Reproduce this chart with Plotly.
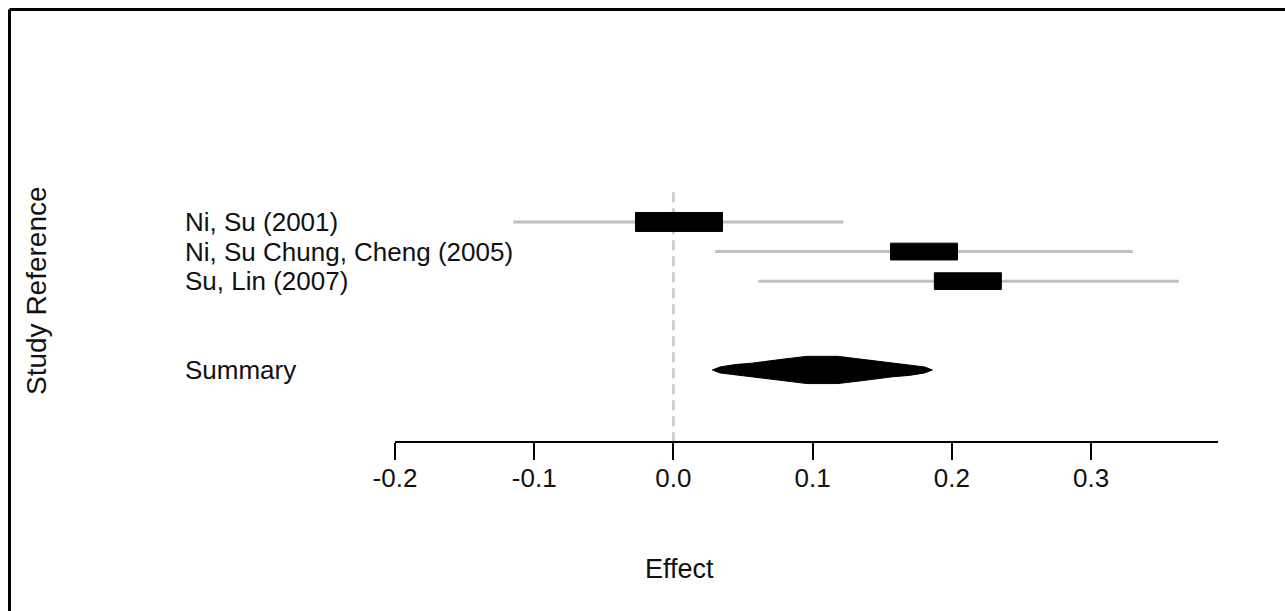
import plotly.graph_objects as go

# ---- data ----
studies = ["Ni, Su (2001)", "Ni, Su Chung, Cheng (2005)", "Su, Lin (2007)"]
effects = [0.004, 0.180, 0.2115]
lower = [-0.115, 0.030, 0.061]
upper = [0.122, 0.330, 0.363]
weights = [1.0, 0.77, 0.77]
summary_label = "Summary"
summary_effect = 0.107
summary_lower = 0.030
summary_upper = 0.188
tick_vals = [-0.2, -0.1, 0.0, 0.1, 0.2, 0.3]
tick_text = ["-0.2", "-0.1", "0.0", "0.1", "0.2", "0.3"]
x_title = "Effect"
y_title = "Study Reference"

# ---- layout constants ----
W, H = 1285, 611
ML, MR, MT, MB = 395, 67, 100, 170
XR = [-0.2, 0.3912]
YR = [7.4, -4.12]
FONT = "Liberation Sans, Arial, sans-serif"
FS = 26
TXT = "#111111"
BOX_W = 0.0625
BOX_H = 0.32
SUMMARY_ROW = 5

rows = list(range(len(studies)))

fig = go.Figure()

# zero reference line
fig.add_trace(go.Scatter(x=[0, 0], y=[-1, YR[0]], mode="lines",
                         line=dict(color="#d0d0d0", width=3, dash="10px,6px"),
                         hoverinfo="skip", showlegend=False))

# CI lines
for r, lo, hi in zip(rows, lower, upper):
    fig.add_trace(go.Scatter(x=[lo, hi], y=[r, r], mode="lines",
                             line=dict(color="#c0c0c0", width=3),
                             hoverinfo="skip", showlegend=False))

# boxes
for r, e, w in zip(rows, effects, weights):
    hw = BOX_W * w / 2
    hh = BOX_H * (0.5 + 0.5 * w)
    fig.add_trace(go.Scatter(x=[e - hw, e + hw, e + hw, e - hw, e - hw],
                             y=[r - hh, r - hh, r + hh, r + hh, r - hh],
                             mode="lines", fill="toself", fillcolor="black",
                             line=dict(color="black", width=1),
                             hoverinfo="skip", showlegend=False))

# summary diamond (slightly convex, as in the original raster)
dh = 0.46
half = (summary_upper - summary_lower) / 2
prof = [(0.0, 1.0), (0.22, 0.93), (0.4, 0.79), (0.5, 0.64), (0.8, 0.35), (1.0, 0.14)]
dx = []
dy = []
for fy, fx in prof:
    dx.append(summary_effect - half * fx)
    dy.append(SUMMARY_ROW - dh * fy)
for fy, fx in reversed(prof):
    dx.append(summary_effect + half * fx)
    dy.append(SUMMARY_ROW - dh * fy)
for fy, fx in prof[1:]:
    dx.append(summary_effect + half * fx)
    dy.append(SUMMARY_ROW + dh * fy)
for fy, fx in reversed(prof):
    dx.append(summary_effect - half * fx)
    dy.append(SUMMARY_ROW + dh * fy)
fig.add_trace(go.Scatter(x=dx, y=dy, mode="lines", fill="toself", fillcolor="black",
                         line=dict(color="black", width=1),
                         hoverinfo="skip", showlegend=False))

pw = W - ML - MR
ph = H - MT - MB

def px_x(px):
    return (px - ML) / pw

def py_y(py):
    return (H - MB - py) / ph

annotations = []
label_x = px_x(183)
for r, s in zip(rows, studies):
    annotations.append(dict(x=label_x, xref="paper", y=r, yref="y", text=s,
                            showarrow=False, xanchor="left", yanchor="middle",
                            font=dict(family=FONT, size=FS, color=TXT)))
annotations.append(dict(x=label_x, xref="paper", y=SUMMARY_ROW, yref="y", text=summary_label,
                        showarrow=False, xanchor="left", yanchor="middle",
                        font=dict(family=FONT, size=FS, color=TXT)))
annotations.append(dict(x=px_x(679), xref="paper", y=py_y(569), yref="paper", text=x_title,
                        showarrow=False, xanchor="center", yanchor="middle",
                        font=dict(family=FONT, size=FS + 1, color=TXT)))
annotations.append(dict(x=px_x(36), xref="paper", y=py_y(291), yref="paper", text=y_title,
                        showarrow=False, xanchor="center", yanchor="middle", textangle=-90,
                        font=dict(family=FONT, size=FS + 2, color=TXT)))

shapes = [
    dict(type="line", xref="paper", yref="paper", x0=px_x(9.5), x1=px_x(1300),
         y0=py_y(9.5), y1=py_y(9.5), line=dict(color="black", width=3)),
    dict(type="line", xref="paper", yref="paper", x0=px_x(9.5), x1=px_x(9.5),
         y0=py_y(9.5), y1=py_y(630), line=dict(color="black", width=3)),
]

fig.update_layout(
    width=W, height=H, autosize=False,
    margin=dict(l=ML, r=MR, t=MT, b=MB, pad=0),
    paper_bgcolor="white", plot_bgcolor="white",
    font=dict(family=FONT, size=FS, color=TXT),
    xaxis=dict(range=XR, tickvals=tick_vals, ticktext=tick_text,
               showline=True, linecolor="black", linewidth=2,
               ticks="outside", ticklen=17, tickwidth=2, tickcolor="black",
               ticklabelstandoff=-4,
               showgrid=False, zeroline=False, fixedrange=True,
               tickfont=dict(family=FONT, size=FS, color=TXT)),
    yaxis=dict(range=YR, showticklabels=False, showline=False, showgrid=False,
               zeroline=False, ticks="", fixedrange=True),
    annotations=annotations,
    shapes=shapes,
    showlegend=False,
)

fig.write_html("out.html", config={"displayModeBar": False},
               post_script="document.body.style.margin='0';document.body.style.overflow='hidden';")
